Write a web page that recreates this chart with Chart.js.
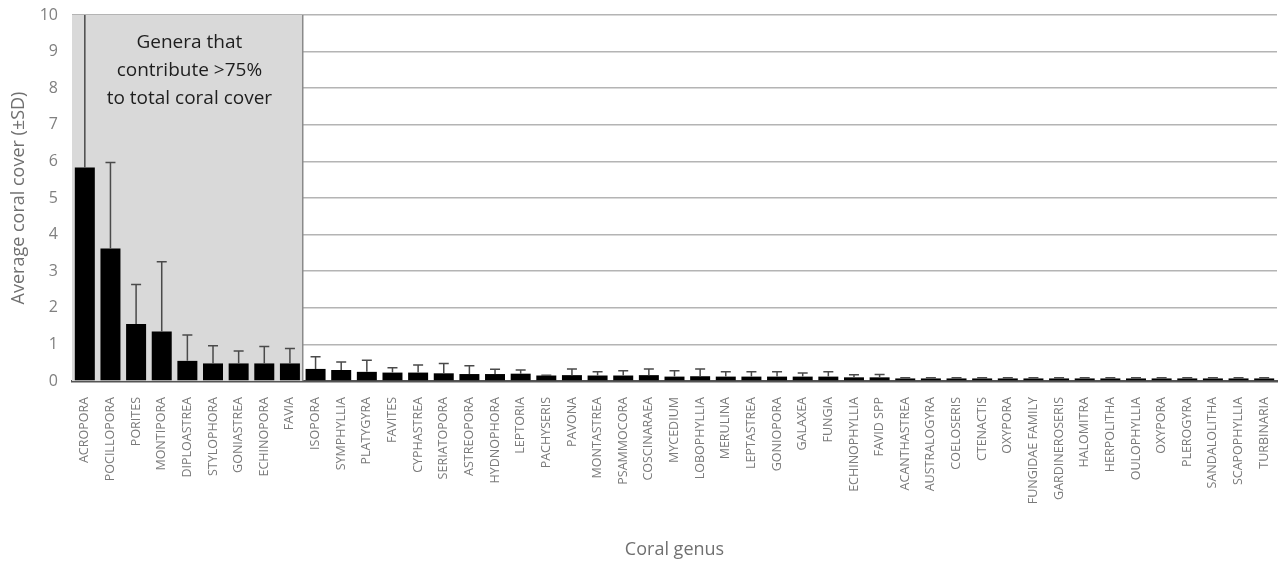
<!DOCTYPE html>
<html>
<head>
<meta charset="utf-8">
<script src="https://cdn.jsdelivr.net/npm/chart.js@4/dist/chart.umd.min.js"></script>
<style>
  html, body { margin: 0; padding: 0; background: #fff; }
  #wrap { width: 1284px; height: 562px; }
</style>
</head>
<body>
<div id="wrap"><canvas id="chart" width="1284" height="562"></canvas></div>
<script>
const genera = [
  'ACROPORA', 'POCILLOPORA', 'PORITES', 'MONTIPORA', 'DIPLOASTREA', 'STYLOPHORA',
  'GONIASTREA', 'ECHINOPORA', 'FAVIA', 'ISOPORA', 'SYMPHYLLIA', 'PLATYGYRA',
  'FAVITES', 'CYPHASTREA', 'SERIATOPORA', 'ASTREOPORA', 'HYDNOPHORA', 'LEPTORIA',
  'PACHYSERIS', 'PAVONA', 'MONTASTREA', 'PSAMMOCORA', 'COSCINARAEA', 'MYCEDIUM',
  'LOBOPHYLLIA', 'MERULINA', 'LEPTASTREA', 'GONIOPORA', 'GALAXEA', 'FUNGIA',
  'ECHINOPHYLLIA', 'FAVID SPP', 'ACANTHASTREA', 'AUSTRALOGYRA', 'COELOSERIS',
  'CTENACTIS', 'OXYPORA', 'FUNGIDAE FAMILY', 'GARDINEROSERIS', 'HALOMITRA',
  'HERPOLITHA', 'OULOPHYLLIA', 'OXYPORA', 'PLEROGYRA', 'SANDALOLITHA',
  'SCAPOPHYLLIA', 'TURBINARIA'
];

const meanCover = [
  5.83, 3.62, 1.56, 1.35, 0.55, 0.48, 0.48, 0.48, 0.48, 0.33, 0.30, 0.25,
  0.23, 0.23, 0.21, 0.19, 0.19, 0.20, 0.15, 0.16, 0.15, 0.15, 0.16, 0.12,
  0.13, 0.12, 0.12, 0.12, 0.12, 0.12, 0.10, 0.10, 0.07, 0.07, 0.07,
  0.07, 0.07, 0.07, 0.07, 0.07, 0.07, 0.07, 0.07, 0.07, 0.07,
  0.07, 0.07
];

const sdCover = [
  4.6, 2.35, 1.08, 1.91, 0.71, 0.48, 0.34, 0.46, 0.41, 0.33, 0.22, 0.32,
  0.13, 0.21, 0.27, 0.23, 0.13, 0.10, 0.01, 0.17, 0.10, 0.13, 0.17, 0.16,
  0.20, 0.13, 0.13, 0.13, 0.10, 0.13, 0.07, 0.08, 0.02, 0.02, 0.02,
  0.02, 0.02, 0.02, 0.02, 0.02, 0.02, 0.02, 0.02, 0.02, 0.02,
  0.02, 0.02
];

const majorCount = 9; // first 9 genera sit in the shaded box
const boxText = ['Genera that', 'contribute >75%', 'to total coral cover'];

const FONT = "'Open Sans', 'Noto Sans', sans-serif";

// grey box behind the top genera, drawn over the grid but under the bars
const shadePlugin = {
  id: 'shade',
  beforeDatasetsDraw(chart) {
    const { ctx, chartArea, scales: { x, y } } = chart;
    const right = (x.getPixelForValue(majorCount - 1) + x.getPixelForValue(majorCount)) / 2;
    const top = y.getPixelForValue(10);
    const bottom = y.getPixelForValue(0);
    ctx.save();
    ctx.fillStyle = '#d9d9d9';
    ctx.fillRect(chartArea.left, top, right - chartArea.left, bottom - top);
    ctx.strokeStyle = '#8a8a8a';
    ctx.lineWidth = 1.5;
    ctx.beginPath();
    ctx.moveTo(right, top);
    ctx.lineTo(right, bottom);
    ctx.stroke();

    ctx.fillStyle = '#1e1e1e';
    ctx.font = '19px ' + FONT;
    ctx.textAlign = 'center';
    ctx.textBaseline = 'middle';
    const cx = (chartArea.left + right) / 2 + 2;
    boxText.forEach((line, i) => ctx.fillText(line, cx, top + 28 + i * 28));
    ctx.restore();
  }
};

// upper-only error bars (mean + SD)
const errorPlugin = {
  id: 'errorBars',
  afterDatasetsDraw(chart) {
    const { ctx, chartArea, scales: { y } } = chart;
    const meta = chart.getDatasetMeta(0);
    ctx.save();
    ctx.strokeStyle = '#4a4a4a';
    ctx.lineWidth = 1.5;
    meta.data.forEach((bar, i) => {
      const yTop = y.getPixelForValue(meanCover[i] + sdCover[i]);
      const yBar = y.getPixelForValue(meanCover[i]);
      const clipped = yTop < chartArea.top;
      const yEnd = clipped ? chartArea.top : yTop;
      ctx.beginPath();
      ctx.moveTo(bar.x, yBar);
      ctx.lineTo(bar.x, yEnd);
      if (!clipped) {
        ctx.moveTo(bar.x - 5, yEnd);
        ctx.lineTo(bar.x + 5, yEnd);
      }
      ctx.stroke();
    });
    ctx.restore();
  }
};

new Chart(document.getElementById('chart'), {
  type: 'bar',
  data: {
    labels: genera,
    datasets: [{
      data: meanCover,
      backgroundColor: '#000',
      borderWidth: 0,
      barPercentage: 0.78,
      categoryPercentage: 1
    }]
  },
  options: {
    responsive: false,
    animation: false,
    layout: { padding: { top: 15, right: 7, left: 8, bottom: 0 } },
    plugins: {
      legend: { display: false },
      tooltip: { enabled: false }
    },
    scales: {
      x: {
        grid: { display: false },
        border: { display: true, color: '#555', width: 2.5 },
        ticks: {
          autoSkip: false,
          minRotation: 90,
          maxRotation: 90,
          padding: 8,
          color: '#7a7a7a',
          font: { family: FONT, size: 12.5 }
        },
        title: {
          display: true,
          text: 'Coral genus',
          color: '#707070',
          font: { family: FONT, size: 18 },
          padding: { top: 0, bottom: 1 }
        },
        afterFit(scale) {
          scale.height = 181;
          scale.paddingLeft = 0;
          scale.paddingRight = 0;
        }
      },
      y: {
        min: 0,
        max: 10,
        ticks: {
          stepSize: 1,
          padding: 14,
          color: '#808080',
          font: { family: FONT, size: 16 }
        },
        grid: { color: '#b4b4b4', lineWidth: 1.5, drawTicks: false },
        border: { display: false },
        title: {
          display: true,
          text: 'Average coral cover (±SD)',
          color: '#707070',
          font: { family: FONT, size: 18 },
          padding: { top: 0, bottom: 2 }
        },
        afterFit(scale) {
          scale.width = 64;
          scale.paddingTop = 0;
          scale.paddingBottom = 0;
        }
      }
    }
  },
  plugins: [shadePlugin, errorPlugin]
});
</script>
</body>
</html>
